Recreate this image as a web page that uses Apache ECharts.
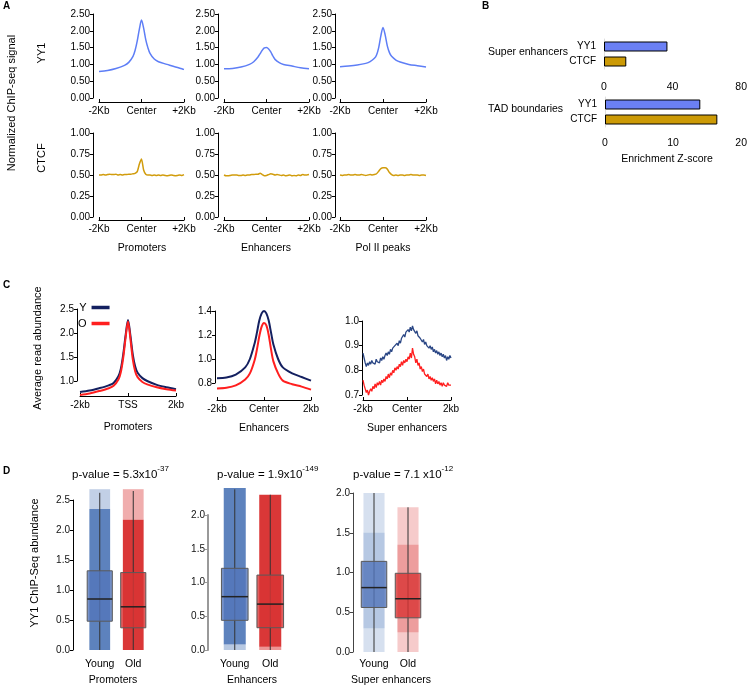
<!DOCTYPE html>
<html>
<head>
<meta charset="utf-8">
<script src="https://cdn.jsdelivr.net/npm/echarts@6.0.0/dist/echarts.min.js"></script>
<style>
html, body { margin: 0; padding: 0; background: #fff; }
#chart { width: 750px; height: 686px; }
</style>
</head>
<body>
<div id="chart"></div>
<script>
// ---- A: ChIP-seq profiles, x = bp from peak centre
const profilePos = [-2000, -1600, -1200, -800, -600, -400, -300, -200, -100, 0, 100, 200, 300, 400, 600, 800, 1200, 1600, 2000];
const yy1Promoters = [0.79, 0.82, 0.88, 0.97, 1.06, 1.24, 1.42, 1.7, 2.05, 2.32, 2.08, 1.74, 1.5, 1.33, 1.16, 1.08, 1.0, 0.92, 0.85];
const yy1Enhancers = [0.87, 0.88, 0.92, 1.0, 1.08, 1.22, 1.32, 1.42, 1.49, 1.5, 1.46, 1.37, 1.25, 1.15, 1.05, 1.0, 0.95, 0.9, 0.87];
const yy1PolII = [0.93, 0.95, 0.98, 1.03, 1.08, 1.18, 1.28, 1.5, 1.85, 2.1, 1.88, 1.55, 1.35, 1.24, 1.13, 1.07, 1.0, 0.96, 0.92];

// CTCF profiles, 100 bp bins from -2kb to +2kb
const ctcfPromoters = [0.50, 0.50, 0.505, 0.50, 0.505, 0.51, 0.505, 0.505, 0.51, 0.50,
  0.505, 0.50, 0.505, 0.505, 0.51, 0.51, 0.515, 0.52, 0.54, 0.63,
  0.69, 0.56, 0.51, 0.50, 0.50, 0.495, 0.50, 0.495, 0.50, 0.495,
  0.50, 0.495, 0.49, 0.495, 0.50, 0.495, 0.49, 0.495, 0.50, 0.495, 0.505];
const ctcfEnhancers = [0.50, 0.49, 0.49, 0.495, 0.50, 0.50, 0.50, 0.495, 0.495, 0.50,
  0.495, 0.50, 0.50, 0.505, 0.505, 0.51, 0.51, 0.52, 0.505, 0.49,
  0.495, 0.505, 0.515, 0.51, 0.50, 0.505, 0.50, 0.495, 0.50, 0.49,
  0.495, 0.50, 0.49, 0.495, 0.49, 0.50, 0.495, 0.505, 0.50, 0.50, 0.505];
const ctcfPolII = [0.50, 0.495, 0.50, 0.50, 0.505, 0.50, 0.50, 0.505, 0.50, 0.50,
  0.505, 0.50, 0.495, 0.50, 0.505, 0.50, 0.505, 0.515, 0.545, 0.575,
  0.585, 0.585, 0.57, 0.53, 0.505, 0.495, 0.50, 0.495, 0.50, 0.50,
  0.495, 0.50, 0.50, 0.505, 0.50, 0.50, 0.50, 0.495, 0.50, 0.50, 0.495];
const profileTicks = ['-2Kb', 'Center', '+2Kb'];

// ---- B: enrichment z-scores
const factors = ['YY1', 'CTCF'];
const zSuperEnhancers = [37, 13];
const zTadBoundaries = [14, 16.5];

// ---- C: average read abundance, young vs old
const youngPromoters = [0.77, 0.80, 0.85, 0.91, 0.96, 1.1, 1.25, 1.55, 1.95, 2.27, 1.95, 1.55, 1.3, 1.17, 1.06, 1.0, 0.92, 0.87, 0.83];
const oldPromoters = [0.71, 0.74, 0.79, 0.85, 0.9, 1.03, 1.18, 1.48, 1.9, 2.24, 1.88, 1.45, 1.2, 1.08, 0.98, 0.93, 0.87, 0.83, 0.80];
const youngEnhancers = [0.84, 0.845, 0.87, 0.93, 1.0, 1.13, 1.22, 1.32, 1.38, 1.40, 1.38, 1.32, 1.22, 1.12, 1.0, 0.93, 0.88, 0.85, 0.82];
const oldEnhancers = [0.755, 0.76, 0.78, 0.83, 0.88, 0.99, 1.08, 1.19, 1.27, 1.30, 1.28, 1.2, 1.08, 0.98, 0.88, 0.82, 0.79, 0.77, 0.745];
// super enhancers, 50 bp bins
const youngSuperEnh = [0.87, 0.85, 0.83, 0.815, 0.83, 0.82, 0.835, 0.825, 0.84, 0.83,
  0.835, 0.825, 0.845, 0.835, 0.84, 0.83, 0.85, 0.84, 0.855, 0.845,
  0.86, 0.87, 0.86, 0.875, 0.865, 0.885, 0.875, 0.89, 0.885, 0.90,
  0.895, 0.91, 0.90, 0.92, 0.91, 0.93, 0.925, 0.945, 0.935, 0.955,
  0.95, 0.965, 0.955, 0.975, 0.96, 0.98, 0.965, 0.97, 0.95, 0.96,
  0.94, 0.945, 0.93, 0.935, 0.915, 0.925, 0.905, 0.915, 0.90, 0.905,
  0.89, 0.90, 0.885, 0.895, 0.875, 0.885, 0.87, 0.88, 0.865, 0.875,
  0.86, 0.87, 0.855, 0.865, 0.85, 0.86, 0.84, 0.855, 0.845, 0.86, 0.85];
const oldSuperEnh = [0.76, 0.74, 0.725, 0.71, 0.72, 0.70, 0.715, 0.725, 0.715, 0.735,
  0.725, 0.745, 0.73, 0.75, 0.74, 0.755, 0.74, 0.76, 0.75, 0.765,
  0.755, 0.775, 0.765, 0.785, 0.77, 0.79, 0.78, 0.80, 0.79, 0.81,
  0.80, 0.815, 0.805, 0.825, 0.815, 0.835, 0.82, 0.84, 0.83, 0.845,
  0.835, 0.855, 0.845, 0.87, 0.85, 0.89, 0.865, 0.855, 0.83, 0.845,
  0.82, 0.83, 0.805, 0.815, 0.795, 0.805, 0.785, 0.79, 0.775, 0.785,
  0.765, 0.775, 0.76, 0.77, 0.755, 0.765, 0.745, 0.76, 0.745, 0.755,
  0.74, 0.75, 0.735, 0.75, 0.74, 0.745, 0.735, 0.75, 0.74, 0.745, 0.74];

// ---- D: YY1 ChIP-seq abundance per site, young vs old
const ageGroups = ['Young', 'Old'];
// [group, lower whisker, Q1, median, Q3, upper whisker]
const boxPromoters = [[0, 0, 0.48, 0.85, 1.32, 2.62], [1, 0, 0.37, 0.72, 1.29, 2.65]];
const boxEnhancers = [[0, 0, 0.44, 0.79, 1.21, 2.38], [1, 0, 0.33, 0.68, 1.11, 2.3]];
const boxSuperEnh = [[0, 0, 0.56, 0.81, 1.14, 2.0], [1, 0, 0.43, 0.67, 0.99, 1.82]];
// point clouds: [group, low, high, relative density]
const cloudPromoters = [[0, 0, 2.35, 0.8], [0, 2.35, 2.68, 0.3], [1, 0, 2.17, 0.85], [1, 2.17, 2.68, 0.35]];
const cloudEnhancers = [[0, 0.08, 2.4, 0.8], [0, 0, 0.08, 0.35], [1, 0.05, 2.3, 0.85], [1, 0, 0.05, 0.45]];
const cloudSuperEnh = [[0, 0, 2.0, 0.2], [0, 0.3, 1.5, 0.2], [1, 0, 1.82, 0.22], [1, 0.25, 1.35, 0.25]];
const pValues = [['p-value = 5.3x10', '-37'], ['p-value = 1.9x10', '-149'], ['p-value = 7.1 x10', '-12']];

const FONT = 'Liberation Sans';
const yy1Color = '#5e7ef6';
const ctcfColor = '#d19c0c';
const barColors = ['#6b80f4', '#cc9a06'];
const youngLine = '#142060';
const oldLine = '#ff1f1f';
const cloudColors = ['#3463ad', '#d41414'];
const boxFills = ['rgba(84,118,186,0.8)', 'rgba(218,52,52,0.8)'];

const binPos = n => Array.from({ length: n }, (_, i) => -2000 + i * 4000 / (n - 1));
const ctcfPos = binPos(ctcfPromoters.length);
const superPos = binPos(youngSuperEnh.length);

let myChart = echarts.init(document.getElementById('chart'));

function profileX(gi, offset, labels) {
  return {
    type: 'value', gridIndex: gi, min: -2000, max: 2000, interval: 2000, offset,
    axisLine: { onZero: false, lineStyle: { color: '#000', width: 1 } },
    axisTick: { inside: true, length: 3, lineStyle: { color: '#000' } },
    axisLabel: {
      fontFamily: FONT, fontSize: 10, color: '#000', margin: 4,
      showMinLabel: true, showMaxLabel: true,
      formatter: v => (v < 0 ? labels[0] : v > 0 ? labels[2] : labels[1]),
    },
    splitLine: { show: false },
  };
}

function valueY(gi, min, max, interval, digits, offset) {
  return {
    type: 'value', gridIndex: gi, min, max, interval, offset,
    axisLine: { show: true, onZero: false, lineStyle: { color: '#000', width: 1 } },
    axisTick: { show: true, length: 3, lineStyle: { color: '#000' } },
    axisLabel: { fontFamily: FONT, fontSize: 10, color: '#000', margin: 3, formatter: v => v.toFixed(digits) },
    splitLine: { show: false },
  };
}

function zX(gi, max, interval, offset) {
  return {
    type: 'value', gridIndex: gi, min: 0, max, interval, offset,
    axisLine: { onZero: false, lineStyle: { color: '#000' } },
    axisTick: { inside: true, length: 4, lineStyle: { color: '#000' } },
    axisLabel: { fontFamily: FONT, fontSize: 10.5, color: '#000', margin: 5 },
    splitLine: { show: false },
  };
}

function zY(gi) {
  return {
    type: 'category', gridIndex: gi, data: factors, inverse: true,
    axisLine: { onZero: false, lineStyle: { color: '#dedede' } },
    axisTick: { show: false },
    axisLabel: { fontFamily: FONT, fontSize: 10, color: '#000', margin: 8 },
  };
}

function groupX(gi, margin) {
  return {
    type: 'category', gridIndex: gi, data: ageGroups,
    axisLine: { show: false, onZero: false }, axisTick: { show: false },
    axisLabel: { fontFamily: FONT, fontSize: 10.5, color: '#000', margin, interval: 0 },
  };
}

function boxY(gi, max, color, width, offset) {
  return {
    type: 'value', gridIndex: gi, min: 0, max, interval: 0.5, offset,
    axisLine: { show: true, onZero: false, lineStyle: { color, width } },
    axisTick: { show: true, length: 3, lineStyle: { color } },
    axisLabel: { fontFamily: FONT, fontSize: 10, color: '#111', margin: 3, formatter: v => v.toFixed(1) },
    splitLine: { show: false },
  };
}

function line(name, gi, xs, ys, color, width, smooth) {
  return {
    type: 'line', name, xAxisIndex: gi, yAxisIndex: gi,
    data: ys.map((v, i) => [xs[i], v]),
    symbol: 'none', smooth, clip: false, silent: true,
    lineStyle: { color, width }, itemStyle: { color },
  };
}

function bars(gi, values) {
  return {
    type: 'bar', xAxisIndex: gi, yAxisIndex: gi, barWidth: 10, silent: true,
    data: values.map((v, i) => ({ value: v, itemStyle: { color: barColors[i] } })),
    itemStyle: { borderColor: '#000', borderWidth: 1 },
  };
}

function cloud(gi, data) {
  return {
    type: 'custom', xAxisIndex: gi, yAxisIndex: gi, data, silent: true,
    encode: { x: 0, y: [1, 2] },
    renderItem(params, api) {
      const g = api.value(0);
      const lo = api.coord([g, api.value(1)]);
      const hi = api.coord([g, api.value(2)]);
      const w = api.size([1, 0])[0] * 0.62;
      return {
        type: 'rect',
        shape: { x: lo[0] - w / 2, y: hi[1], width: w, height: lo[1] - hi[1] },
        style: { fill: cloudColors[g], opacity: api.value(3) },
      };
    },
  };
}

function boxes(gi, data) {
  return {
    type: 'custom', xAxisIndex: gi, yAxisIndex: gi, data, silent: true,
    encode: { x: 0, y: [1, 2, 3, 4, 5] },
    renderItem(params, api) {
      const g = api.value(0);
      const y = k => api.coord([g, api.value(k)])[1];
      const x = api.coord([g, 0])[0];
      const w = api.size([1, 0])[0] * 0.75;
      return {
        type: 'group',
        children: [
          { type: 'line', shape: { x1: x, y1: y(1), x2: x, y2: y(5) }, style: { stroke: '#333', lineWidth: 1 } },
          { type: 'rect', shape: { x: x - w / 2, y: y(4), width: w, height: y(2) - y(4) },
            style: { fill: boxFills[g], stroke: '#5a5a5a', lineWidth: 1 } },
          { type: 'line', shape: { x1: x - w / 2, y1: y(3), x2: x + w / 2, y2: y(3) }, style: { stroke: '#222', lineWidth: 1.5 } },
        ],
      };
    },
  };
}

function txt(text, x, y, opts) {
  return {
    type: 'text', x, y, rotation: (opts && opts.rot) || 0, silent: true,
    style: Object.assign({
      text, fontFamily: FONT, fontSize: 10.5, fill: '#000', align: 'center', verticalAlign: 'middle',
    }, opts && opts.style),
  };
}

const bold = { style: { fontWeight: 'bold', fontSize: 10, align: 'left' } };
const vertical = { rot: Math.PI / 2, style: { fontSize: 11 } };
const pStarts = [72, 217, 353];

myChart.setOption({
  animation: false,
  textStyle: { fontFamily: FONT },
  grid: [
    { left: 99, top: 14, width: 85, height: 84 },
    { left: 224, top: 14, width: 85, height: 84 },
    { left: 340, top: 14, width: 86, height: 84 },
    { left: 99, top: 133, width: 85, height: 84 },
    { left: 224, top: 133, width: 85, height: 84 },
    { left: 340, top: 133, width: 86, height: 84 },
    { left: 604, top: 39, width: 139, height: 30 },
    { left: 605, top: 97, width: 139, height: 30 },
    { left: 80, top: 309, width: 96, height: 72 },
    { left: 217, top: 311, width: 94, height: 72 },
    { left: 363, top: 321, width: 88, height: 74 },
    { left: 83, top: 500, width: 67, height: 150 },
    { left: 217, top: 515, width: 71, height: 135 },
    { left: 357, top: 493, width: 68, height: 159 },
  ],
  xAxis: [
    profileX(0, 4, profileTicks), profileX(1, 4, profileTicks), profileX(2, 4, profileTicks),
    profileX(3, 3, profileTicks), profileX(4, 3, profileTicks), profileX(5, 3, profileTicks),
    zX(6, 80, 40, 8), zX(7, 20, 10, 6),
    profileX(8, 15, ['-2kb', 'TSS', '2kb']), profileX(9, 17, ['-2kb', 'Center', '2kb']), profileX(10, 5, ['-2kb', 'Center', '2kb']),
    groupX(11, 9), groupX(12, 9), groupX(13, 7),
  ],
  yAxis: [
    valueY(0, 0, 2.5, 0.5, 2, 6), valueY(1, 0, 2.5, 0.5, 2, 6), valueY(2, 0, 2.5, 0.5, 2, 5),
    valueY(3, 0, 1, 0.25, 2, 6), valueY(4, 0, 1, 0.25, 2, 6), valueY(5, 0, 1, 0.25, 2, 5),
    zY(6), zY(7),
    valueY(8, 1, 2.5, 0.5, 1, 3), valueY(9, 0.8, 1.4, 0.2, 1, 2), valueY(10, 0.7, 1.0, 0.1, 1, 1),
    boxY(11, 2.5, '#000', 1, 10), boxY(12, 2.0, '#999', 2, 9), boxY(13, 2.0, '#444', 1, 4),
  ],
  legend: {
    data: ['Y', 'O'], left: 78, top: 302, orient: 'vertical', align: 'right', padding: 0,
    icon: 'rect', itemWidth: 18, itemHeight: 3.5, itemGap: 5, selectedMode: false,
    textStyle: { fontFamily: FONT, fontSize: 11, color: '#000' },
  },
  graphic: [
    txt('A', 3, 6, bold), txt('B', 482, 6, bold), txt('C', 3, 285, bold), txt('D', 3, 471, bold),
    txt('Normalized ChIP-seq signal', 12, 103, vertical),
    txt('YY1', 42, 53, vertical), txt('CTCF', 42, 158, vertical),
    txt('Promoters', 142, 248), txt('Enhancers', 266, 248), txt('Pol II peaks', 383, 248),
    txt('Super enhancers', 488, 52, { style: { align: 'left' } }),
    txt('TAD boundaries', 488, 109, { style: { align: 'left' } }),
    txt('Enrichment Z-score', 667, 159),
    txt('Average read abundance', 38, 348, vertical),
    txt('Promoters', 128, 427), txt('Enhancers', 264, 428), txt('Super enhancers', 407, 428),
    txt('YY1 ChIP-Seq abundance', 35, 563, vertical),
    txt('Promoters', 113, 680), txt('Enhancers', 252, 680), txt('Super enhancers', 391, 680),
    ...pValues.map((p, i) => ({
      type: 'text', x: pStarts[i], y: 473, silent: true,
      style: {
        text: '{a|' + p[0] + '}{s|' + p[1] + '}', align: 'left', verticalAlign: 'middle',
        rich: {
          a: { fontFamily: FONT, fontSize: 11.5, lineHeight: 16, verticalAlign: 'bottom', fill: '#000' },
          s: { fontFamily: FONT, fontSize: 8, lineHeight: 9, verticalAlign: 'top', fill: '#000' },
        },
      },
    })),
  ],
  series: [
    line(null, 0, profilePos, yy1Promoters, yy1Color, 1.5, 0.3),
    line(null, 1, profilePos, yy1Enhancers, yy1Color, 1.5, 0.3),
    line(null, 2, profilePos, yy1PolII, yy1Color, 1.5, 0.3),
    line(null, 3, ctcfPos, ctcfPromoters, ctcfColor, 1.5, 0.2),
    line(null, 4, ctcfPos, ctcfEnhancers, ctcfColor, 1.5, 0.2),
    line(null, 5, ctcfPos, ctcfPolII, ctcfColor, 1.5, 0.2),
    bars(6, zSuperEnhancers), bars(7, zTadBoundaries),
    line('Y', 8, profilePos, youngPromoters, youngLine, 2, 0.3),
    line('O', 8, profilePos, oldPromoters, oldLine, 2, 0.3),
    line('Y', 9, profilePos, youngEnhancers, youngLine, 2, 0.3),
    line('O', 9, profilePos, oldEnhancers, oldLine, 2, 0.3),
    line('Y', 10, superPos, youngSuperEnh, '#2b4785', 1.3, false),
    line('O', 10, superPos, oldSuperEnh, oldLine, 1.3, false),
    cloud(11, cloudPromoters), boxes(11, boxPromoters),
    cloud(12, cloudEnhancers), boxes(12, boxEnhancers),
    cloud(13, cloudSuperEnh), boxes(13, boxSuperEnh),
  ],
});
</script>
</body>
</html>
